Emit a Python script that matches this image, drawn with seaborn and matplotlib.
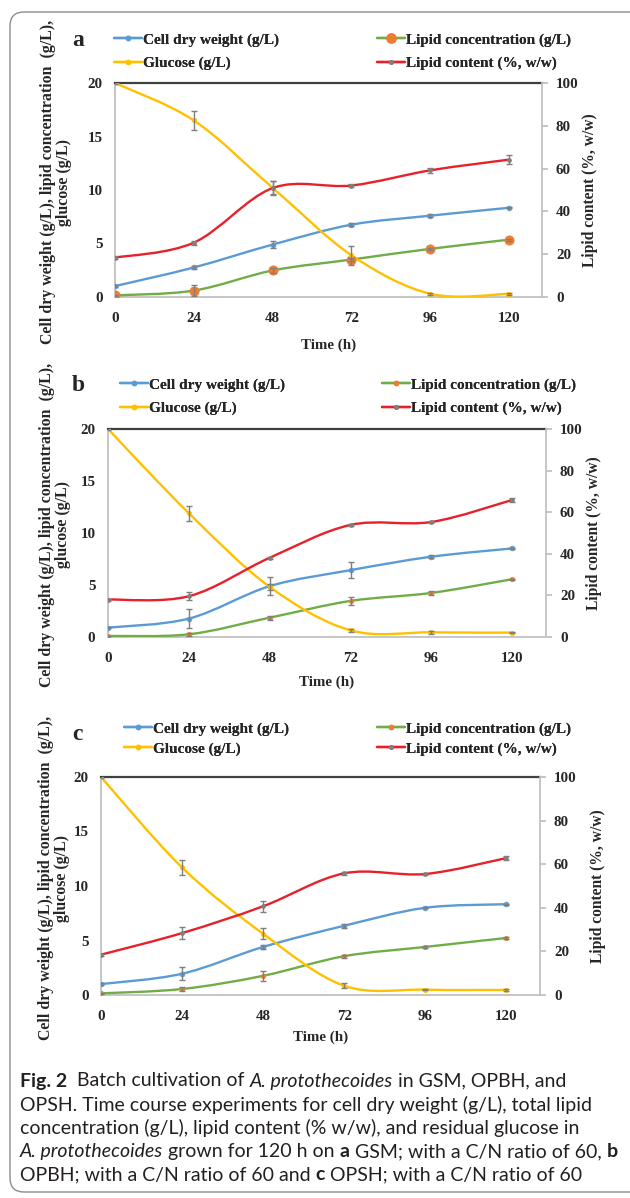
import numpy as np
import matplotlib
matplotlib.use('Agg')
import matplotlib.pyplot as plt
from matplotlib.path import Path
from matplotlib.patches import PathPatch, FancyBboxPatch
from matplotlib.lines import Line2D
from matplotlib.transforms import IdentityTransform
import seaborn as sns

sns.set_theme(style='white')
plt.rcParams['font.family'] = ['Liberation Serif', 'DejaVu Serif']

W, H = 630, 1198
TIME = [0, 24, 48, 72, 96, 120]
LEGEND_LABELS = ['Cell dry weight (g/L)', 'Glucose (g/L)',
                 'Lipid concentration (g/L)', 'Lipid content (%, w/w)']

# panel a - GSM
a_cdw = [1.02, 2.76, 4.90, 6.76, 7.60, 8.34]
a_cdw_err = [0.08, 0.1, 0.35, 0.12, 0.12, 0.05]
a_lipid = [0.15, 0.60, 2.48, 3.50, 4.50, 5.36]
a_lipid_err = [0.05, 0.55, 0.22, 0.12, 0.12, 0.08]
a_glucose = [20.0, 16.5, 10.2, 3.9, 0.3, 0.3]
a_glucose_err = [0.05, 0.9, 0.6, 0.9, 0.08, 0.08]
a_content = [18.4, 25.4, 50.9, 52.1, 59.2, 64.2]
a_content_err = [0.6, 1.0, 3.2, 0.6, 1.2, 2.0]

# panel b - OPBH
b_cdw = [0.90, 1.77, 4.89, 6.43, 7.72, 8.52]
b_cdw_err = [0.08, 0.93, 0.85, 0.75, 0.15, 0.05]
b_lipid = [0.10, 0.26, 1.86, 3.47, 4.24, 5.56]
b_lipid_err = [0.04, 0.12, 0.2, 0.35, 0.2, 0.05]
b_glucose = [20.0, 11.9, 4.82, 0.64, 0.45, 0.42]
b_glucose_err = [0.05, 0.7, 0.3, 0.15, 0.15, 0.05]
b_content = [18.0, 19.6, 38.1, 53.9, 55.3, 65.9]
b_content_err = [0.5, 2.0, 0.5, 0.6, 0.5, 0.8]

# panel c - OPSH
c_cdw = [1.00, 1.95, 4.41, 6.35, 8.00, 8.33]
c_cdw_err = [0.12, 0.6, 0.2, 0.2, 0.05, 0.05]
c_lipid = [0.15, 0.55, 1.76, 3.56, 4.41, 5.23]
c_lipid_err = [0.04, 0.15, 0.45, 0.12, 0.08, 0.05]
c_glucose = [20.0, 11.7, 5.62, 0.85, 0.49, 0.46]
c_glucose_err = [0.05, 0.65, 0.5, 0.25, 0.05, 0.05]
c_content = [18.5, 28.4, 40.7, 55.8, 55.5, 62.8]
c_content_err = [0.5, 2.8, 2.4, 0.6, 0.5, 0.8]

BLUE, ORANGE, GREEN = '#5B9BD5', '#ED7D31', '#70AD47'
YELLOW, RED, GREY = '#FFC000', '#E8202A', '#7F7F7F'
BOLD = dict(fontweight='bold', fontsize=10.8)


def fx(px):
    return px / W


def fy(py):
    return 1 - py / H


def smooth_line(ax, x, y, color, lw=1.7):
    # Excel style smoothed line (Catmull-Rom drawn as cubic bezier segments)
    x = np.asarray(x, float)
    y = np.asarray(y, float)
    px = np.concatenate([[x[0]], x, [x[-1]]])
    py = np.concatenate([[y[0]], y, [y[-1]]])
    verts = [(x[0], y[0])]
    codes = [Path.MOVETO]
    for i in range(len(x) - 1):
        c1 = (x[i] + (px[i + 2] - px[i]) / 6, y[i] + (py[i + 2] - py[i]) / 6)
        c2 = (x[i + 1] - (px[i + 3] - px[i + 1]) / 6,
              y[i + 1] - (py[i + 3] - py[i + 1]) / 6)
        verts += [c1, c2, (x[i + 1], y[i + 1])]
        codes += [Path.CURVE4] * 3
    ax.add_patch(PathPatch(Path(verts, codes), fill=False, edgecolor=color,
                           lw=lw, capstyle='round', zorder=3))


def draw_series(ax, vals, errs, color, mcolor, msize):
    smooth_line(ax, TIME, vals, color)
    sns.scatterplot(x=TIME, y=vals, ax=ax, color=mcolor, s=msize, edgecolor=mcolor,
                    linewidth=0.5, zorder=4, legend=False)
    ax.errorbar(TIME, vals, yerr=errs, fmt='none', ecolor=GREY, elinewidth=1,
                capsize=2.5, capthick=1, zorder=5)


def panel(fig, box, letter, data, lab, big_marker):
    L, R, T, B = box
    ax = fig.add_axes([fx(L), fy(B), fx(R - L), (B - T) / H])
    cdw, cdw_e, lip, lip_e, glu, glu_e, cont, cont_e = data
    ax2 = ax.twinx()

    lip_ms = 45 if big_marker else 10
    draw_series(ax, cdw, cdw_e, BLUE, BLUE, 12)
    draw_series(ax, lip, lip_e, GREEN, ORANGE, lip_ms)
    draw_series(ax, glu, glu_e, YELLOW, YELLOW, 10)
    draw_series(ax2, cont, cont_e, RED, GREY, 8)

    ax.set_xlim(0, 130)
    ax.set_ylim(0, 20)
    ax2.set_ylim(0, 100)
    ax.set_xticks(TIME)
    ax.set_yticks([0, 5, 10, 15, 20])
    ax2.set_yticks([0, 20, 40, 60, 80, 100])
    ax.set_xlabel('')
    ax.set_ylabel('')
    for a in (ax, ax2):
        for s in a.spines.values():
            s.set_visible(False)
        a.grid(False)
        a.set_facecolor('none')
    ax.spines['left'].set_visible(True)
    ax.spines['left'].set_color('#BFBFBF')
    ax.spines['bottom'].set_visible(True)
    ax.spines['bottom'].set_color('#BFBFBF')
    ax.spines['top'].set_visible(True)
    ax.spines['top'].set_color('#404040')
    ax.spines['top'].set_linewidth(1.6)
    ax2.spines['right'].set_visible(True)
    ax2.spines['right'].set_color('#BFBFBF')
    ax.tick_params(axis='both', length=0, pad=9, labelsize=10.8)
    ax.tick_params(axis='x', pad=11)
    ax2.tick_params(axis='y', length=4, color='#BFBFBF', direction='out',
                    pad=6, labelsize=10.8, right=True)
    for t in ax.get_xticklabels() + ax.get_yticklabels() + ax2.get_yticklabels():
        t.set_fontweight('bold')

    # legend, two columns placed like the original
    handles = [
        Line2D([], [], color=BLUE, lw=1.7, marker='o', ms=3, mfc=BLUE, mec=BLUE),
        Line2D([], [], color=YELLOW, lw=1.7, marker='o', ms=3, mfc=YELLOW, mec=YELLOW),
        Line2D([], [], color=GREEN, lw=1.7, marker='o', ms=6.5 if big_marker else 3,
               mfc=ORANGE, mec=ORANGE),
        Line2D([], [], color=RED, lw=1.7, marker='o', ms=2.5, mfc=GREY, mec=GREY),
    ]
    r1, r2, c1, c2 = lab['legend']
    for hs, ls, xx in ((handles[:2], LEGEND_LABELS[:2], c1),
                       (handles[2:], LEGEND_LABELS[2:], c2)):
        leg = fig.legend(hs, ls, loc='center left', bbox_to_anchor=(fx(xx), fy((r1 + r2) / 2)),
                         frameon=False, borderpad=0, borderaxespad=0, handlelength=1.8,
                         handletextpad=0.1, labelspacing=(r2 - r1 - 14) / 14.6,
                         prop=dict(weight='bold', size=11))
        fig.add_artist(leg)

    fig.text(fx(72), fy(lab['letter']), letter, fontsize=17, fontweight='bold',
             ha='left', va='center')
    fig.text(fx((L + R) / 2), fy(lab['xlabel']), 'Time (h)', ha='center', va='center', **BOLD)
    fig.text(fx(lab['ylx']), fy((T + B) / 2 - 8),
             'Cell dry weight (g/L), lipid concentration  (g/L),\nglucose (g/L)',
             rotation=90, ha='center', va='center', multialignment='center',
             linespacing=1.05, fontweight='bold', fontsize=11.4)
    fig.text(fx(lab['rlx']), fy((T + B) / 2), 'Lipid content (%, w/w)', rotation=90,
             ha='center', va='center', fontweight='bold', fontsize=11.2)
    return ax


fig = plt.figure(figsize=(W / 100, H / 100), dpi=100)
fig.patch.set_facecolor('white')

box = FancyBboxPatch((10, H - 1192), 660, 1180, boxstyle='round,pad=0,rounding_size=14',
                     transform=IdentityTransform(), facecolor='none', edgecolor='#8C8C8C',
                     lw=1.0, zorder=0)
fig.patches.append(box)

panel(fig, (115, 542, 83, 297), 'a',
      (a_cdw, a_cdw_err, a_lipid, a_lipid_err, a_glucose, a_glucose_err, a_content, a_content_err),
      dict(legend=(40, 63, 114, 377), letter=41, xlabel=345, ylx=56, rlx=590), True)
panel(fig, (108, 546, 429, 637), 'b',
      (b_cdw, b_cdw_err, b_lipid, b_lipid_err, b_glucose, b_glucose_err, b_content, b_content_err),
      dict(legend=(385, 408, 120, 382), letter=385, xlabel=682, ylx=55, rlx=594), False)
panel(fig, (101, 540, 777, 995), 'c',
      (c_cdw, c_cdw_err, c_lipid, c_lipid_err, c_glucose, c_glucose_err, c_content, c_content_err),
      dict(legend=(729, 749, 124, 377), letter=735, xlabel=1037, ylx=54, rlx=598), False)

# caption with mixed styles
CAPTION = [
    [('Fig. 2', 'bold'), ('  Batch cultivation of ', 'normal'), ('A. protothecoides', 'italic'),
     (' in GSM, OPBH, and', 'normal')],
    [('OPSH. Time course experiments for cell dry weight (g/L), total lipid', 'normal')],
    [('concentration (g/L), lipid content (% w/w), and residual glucose in', 'normal')],
    [('A. protothecoides', 'italic'), (' grown for 120 h on ', 'normal'), ('a', 'bold'),
     (' GSM; with a C/N ratio of 60, ', 'normal'), ('b', 'bold')],
    [('OPBH; with a C/N ratio of 60 and ', 'normal'), ('c', 'bold'),
     (' OPSH; with a C/N ratio of 60', 'normal')],
]
renderer = fig.canvas.get_renderer()
cap_y = [1081, 1104.5, 1128, 1151.5, 1175]
for parts, yy in zip(CAPTION, cap_y):
    x = 20
    for txt, st in parts:
        t = fig.text(fx(x), fy(yy), txt, fontsize=14, family=['Lato', 'DejaVu Sans'],
                     fontweight='bold' if st == 'bold' else 'normal',
                     fontstyle='italic' if st == 'italic' else 'normal',
                     ha='left', va='center', color='#231F20')
        x = t.get_window_extent(renderer).x1

fig.savefig('out.png', dpi=100, facecolor='white')
